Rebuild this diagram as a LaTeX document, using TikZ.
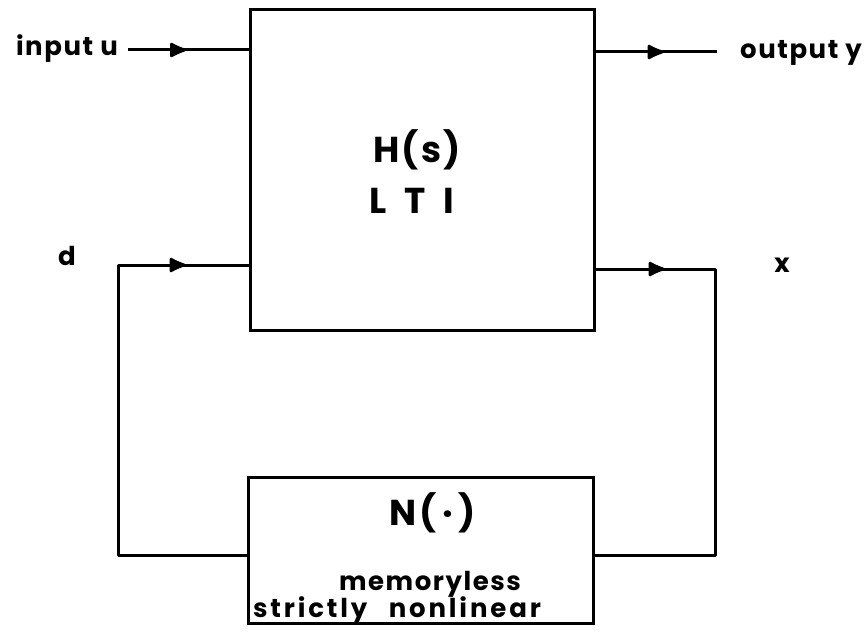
\documentclass[tikz,border=0pt]{standalone}
\usepackage{fontspec}
\setmainfont{Poppins}[LetterSpace=6]
\newfontfamily\widefont{Poppins}[LetterSpace=11]
\usetikzlibrary{arrows.meta,decorations.markings}
\begin{document}
\begin{tikzpicture}[x=1pt,y=-1pt,
  wire/.style={line width=3pt,line join=round},
  blk/.style={draw,line width=3pt,rectangle,inner sep=0pt},
  lbl/.style={font=\bfseries\fontsize{26}{28}\selectfont,inner sep=0pt},
  big/.style={font=\bfseries\fontsize{36}{38}\selectfont,inner sep=0pt},
  midarrow/.style={postaction={decorate},decoration={markings,mark=at position #1 with {\arrow{Latex[length=20pt,width=17pt,round]}}}}]
\useasboundingbox (0,0) rectangle (866,631);
\node[blk,minimum width=344pt,minimum height=321pt] (H) at (422,170) {};
\node[blk,minimum width=345pt,minimum height=146pt] (N) at (420.5,550) {};
\node[big,anchor=base] (hs) at (417,162) {H(s)};
\node[big,anchor=base] (lti) at (412,213) {L\,\,\,T\,\,\,I};
\node[big,anchor=base] (nd) at (433,525) {N(\,·\,)};
\node[lbl,anchor=base] (mem) at (430,590) {memoryless};
\node[lbl,anchor=base] (snl) at (397,617) {\widefont\bfseries strictly\,\,\, nonlinear};
\node[lbl,anchor=base east] (inu) at (118,56) {input u};
\node[lbl,anchor=base west] (outy) at (740,59) {output y};
\node[lbl,anchor=base] (dl) at (67,265) {d};
\node[lbl,anchor=base] (xl) at (782,272) {x};
\coordinate (ustart) at (128,50);
\coordinate (yend) at (717,52);
\coordinate (dtop) at (118,265);
\coordinate (dbot) at (118,555);
\coordinate (xtop) at (715,269);
\coordinate (xbot) at (715,555);
\draw[wire,midarrow=58pt] (ustart) -- (ustart -| H.west);
\draw[wire,midarrow=68pt] (yend -| H.east) -- (yend);
\draw[wire,midarrow=-63pt] (dbot -| N.west) -- (dbot) -- (dtop) -- (dtop -| H.west);
\draw[wire,midarrow=69pt] (xtop -| H.east) -- (xtop) -- (xbot) -- (xbot -| N.east);
\end{tikzpicture}
\end{document}
